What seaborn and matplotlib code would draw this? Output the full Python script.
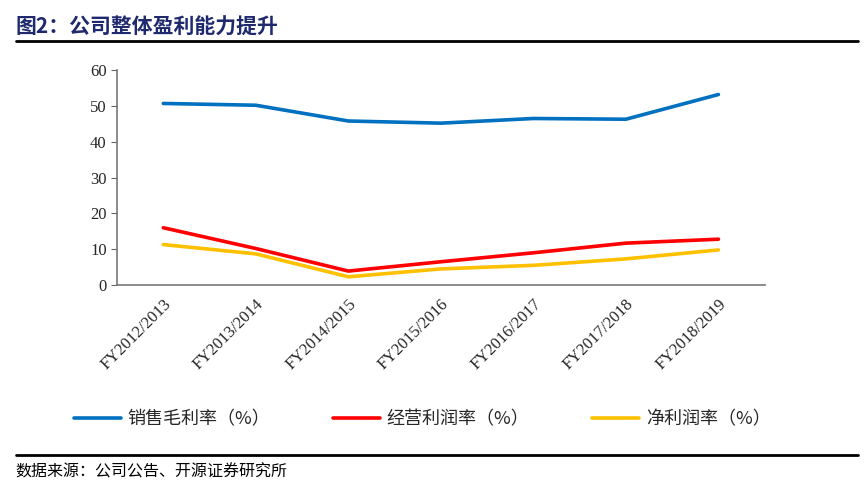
import pandas as pd
import seaborn as sns
import matplotlib.pyplot as plt
from matplotlib.lines import Line2D

# 数据
years = ["FY2012/2013", "FY2013/2014", "FY2014/2015", "FY2015/2016",
         "FY2016/2017", "FY2017/2018", "FY2018/2019"]
gross_margin = [50.7, 50.2, 45.8, 45.2, 46.5, 46.3, 53.2]
op_margin = [16.0, 10.2, 3.9, 6.5, 9.0, 11.7, 12.8]
net_margin = [11.3, 8.7, 2.3, 4.5, 5.5, 7.3, 9.8]
names = ["销售毛利率（%）", "经营利润率（%）", "净利润率（%）"]
colors = ["#0070C0", "#FF0000", "#FFC000"]

df = pd.DataFrame({"year": years * 3,
                   "val": gross_margin + op_margin + net_margin,
                   "series": [names[0]] * 7 + [names[1]] * 7 + [names[2]] * 7})

sns.set_style("white")
plt.rcParams['font.family'] = ['Liberation Serif', 'Noto Sans CJK SC', 'DejaVu Sans']

fig = plt.figure(figsize=(8.67, 4.94), dpi=100)
ax = fig.add_axes([0.135, 0.423, 0.747, 0.435])

sns.lineplot(data=df, x="year", y="val", hue="series", palette=colors,
             linewidth=2.6, ax=ax, legend=False, sort=False)

ax.set_xlim(-0.5, 6.5)
ax.set_ylim(0, 60)
ax.set_yticks(range(0, 61, 10))
ax.set_xticks(range(7))
ax.set_xticklabels(years, rotation=45, ha='right', rotation_mode='anchor', fontsize=12)
ax.set_xticks([i - 0.5 for i in range(8)], minor=True)
ax.tick_params(axis='x', which='major', length=0, pad=8)
ax.tick_params(axis='x', which='minor', length=5, direction='in', color='#666666')
ax.tick_params(axis='y', length=4, direction='out', color='#666666', labelsize=12, left=True)
ax.set_xlabel("")
ax.set_ylabel("")
for s in ['top', 'right']:
    ax.spines[s].set_visible(False)
for s in ['left', 'bottom']:
    ax.spines[s].set_color('#777777')
    ax.spines[s].set_linewidth(1.2)

# 图例
handles = [Line2D([0], [0], color=c, lw=2.6) for c in colors]
fig.legend(handles, names, loc='center left', bbox_to_anchor=(0.075, 0.152), ncol=3,
           frameon=False, handlelength=2.6, columnspacing=3.5, borderpad=0,
           handletextpad=0.35, prop={'family': ['Noto Sans CJK SC'], 'size': 13})

# 标题与来源
fig.text(0.018, 0.945, "图2：公司整体盈利能力提升", fontsize=15, fontweight='bold',
         color='#1F2A6E', family=['Noto Sans CJK SC'], va='center')
fig.add_artist(Line2D([0.018, 0.99], [0.918, 0.918], color='black', lw=2))
fig.add_artist(Line2D([0.018, 0.99], [0.079, 0.079], color='black', lw=2))
fig.text(0.018, 0.044, "数据来源：公司公告、开源证券研究所", fontsize=11.5,
         color='black', family=['Noto Sans CJK SC'], va='center')

fig.savefig("out.png", dpi=100)
